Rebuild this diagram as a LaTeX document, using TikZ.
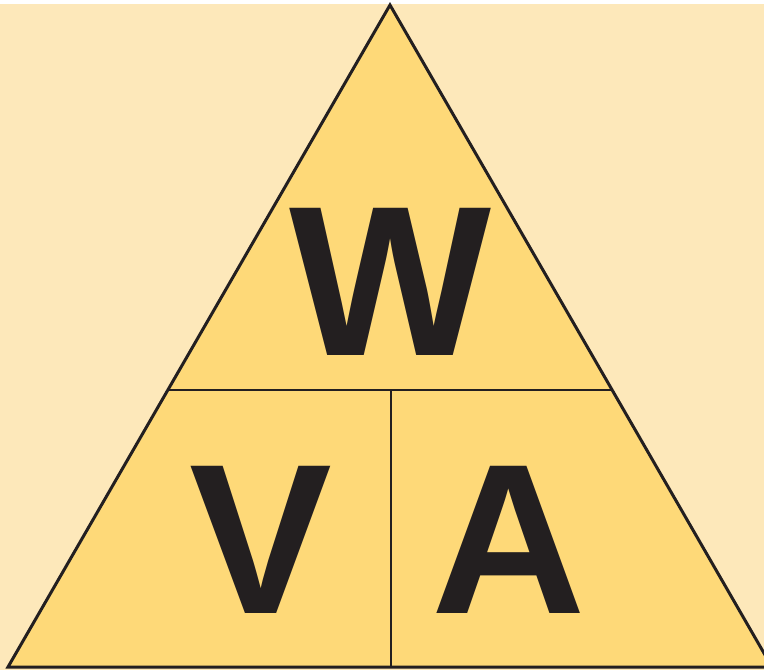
\documentclass[tikz,border=0pt]{standalone}
\usepackage{fontspec}
\setmainfont{Liberation Sans}
\definecolor{bgcream}{HTML}{FDE8BA}
\definecolor{trifill}{HTML}{FED978}
\definecolor{inkdark}{HTML}{231F20}
\begin{document}
\begin{tikzpicture}[x=1pt,y=-1pt,
  letter/.style={inner sep=0pt,text=inkdark,font=\fontsize{214}{214}\selectfont\bfseries},
  edge/.style={draw=inkdark,line width=3pt,line join=miter},
  divider/.style={draw=inkdark,line width=2.4pt}]
\useasboundingbox (0,0) rectangle (764,670);
\fill[white] (0,0) rectangle (764,670);
\fill[bgcream] (0,4) rectangle (764,670);
\begin{scope}
\clip (0,0) rectangle (764,670);
\coordinate (apex) at (390,5);
\coordinate (bl) at (8,667);
\coordinate (br) at (772,667);
\fill[trifill] (apex) -- (bl) -- (br) -- cycle;
\coordinate (hl) at (169,390);
\coordinate (hr) at (611,390);
\coordinate (vt) at (391,390);
\coordinate (vb) at (391,667);
\draw[divider] (hl) -- (hr);
\draw[divider] (vt) -- (vb);
\draw[edge] (apex) -- (bl) -- (br) -- cycle;
\end{scope}
\node[letter] (w) at (390,281.5) {W};
\node[letter] (v) at (261,539.5) {V};
\node[letter] (a) at (509,539.5) {A};
\end{tikzpicture}
\end{document}
